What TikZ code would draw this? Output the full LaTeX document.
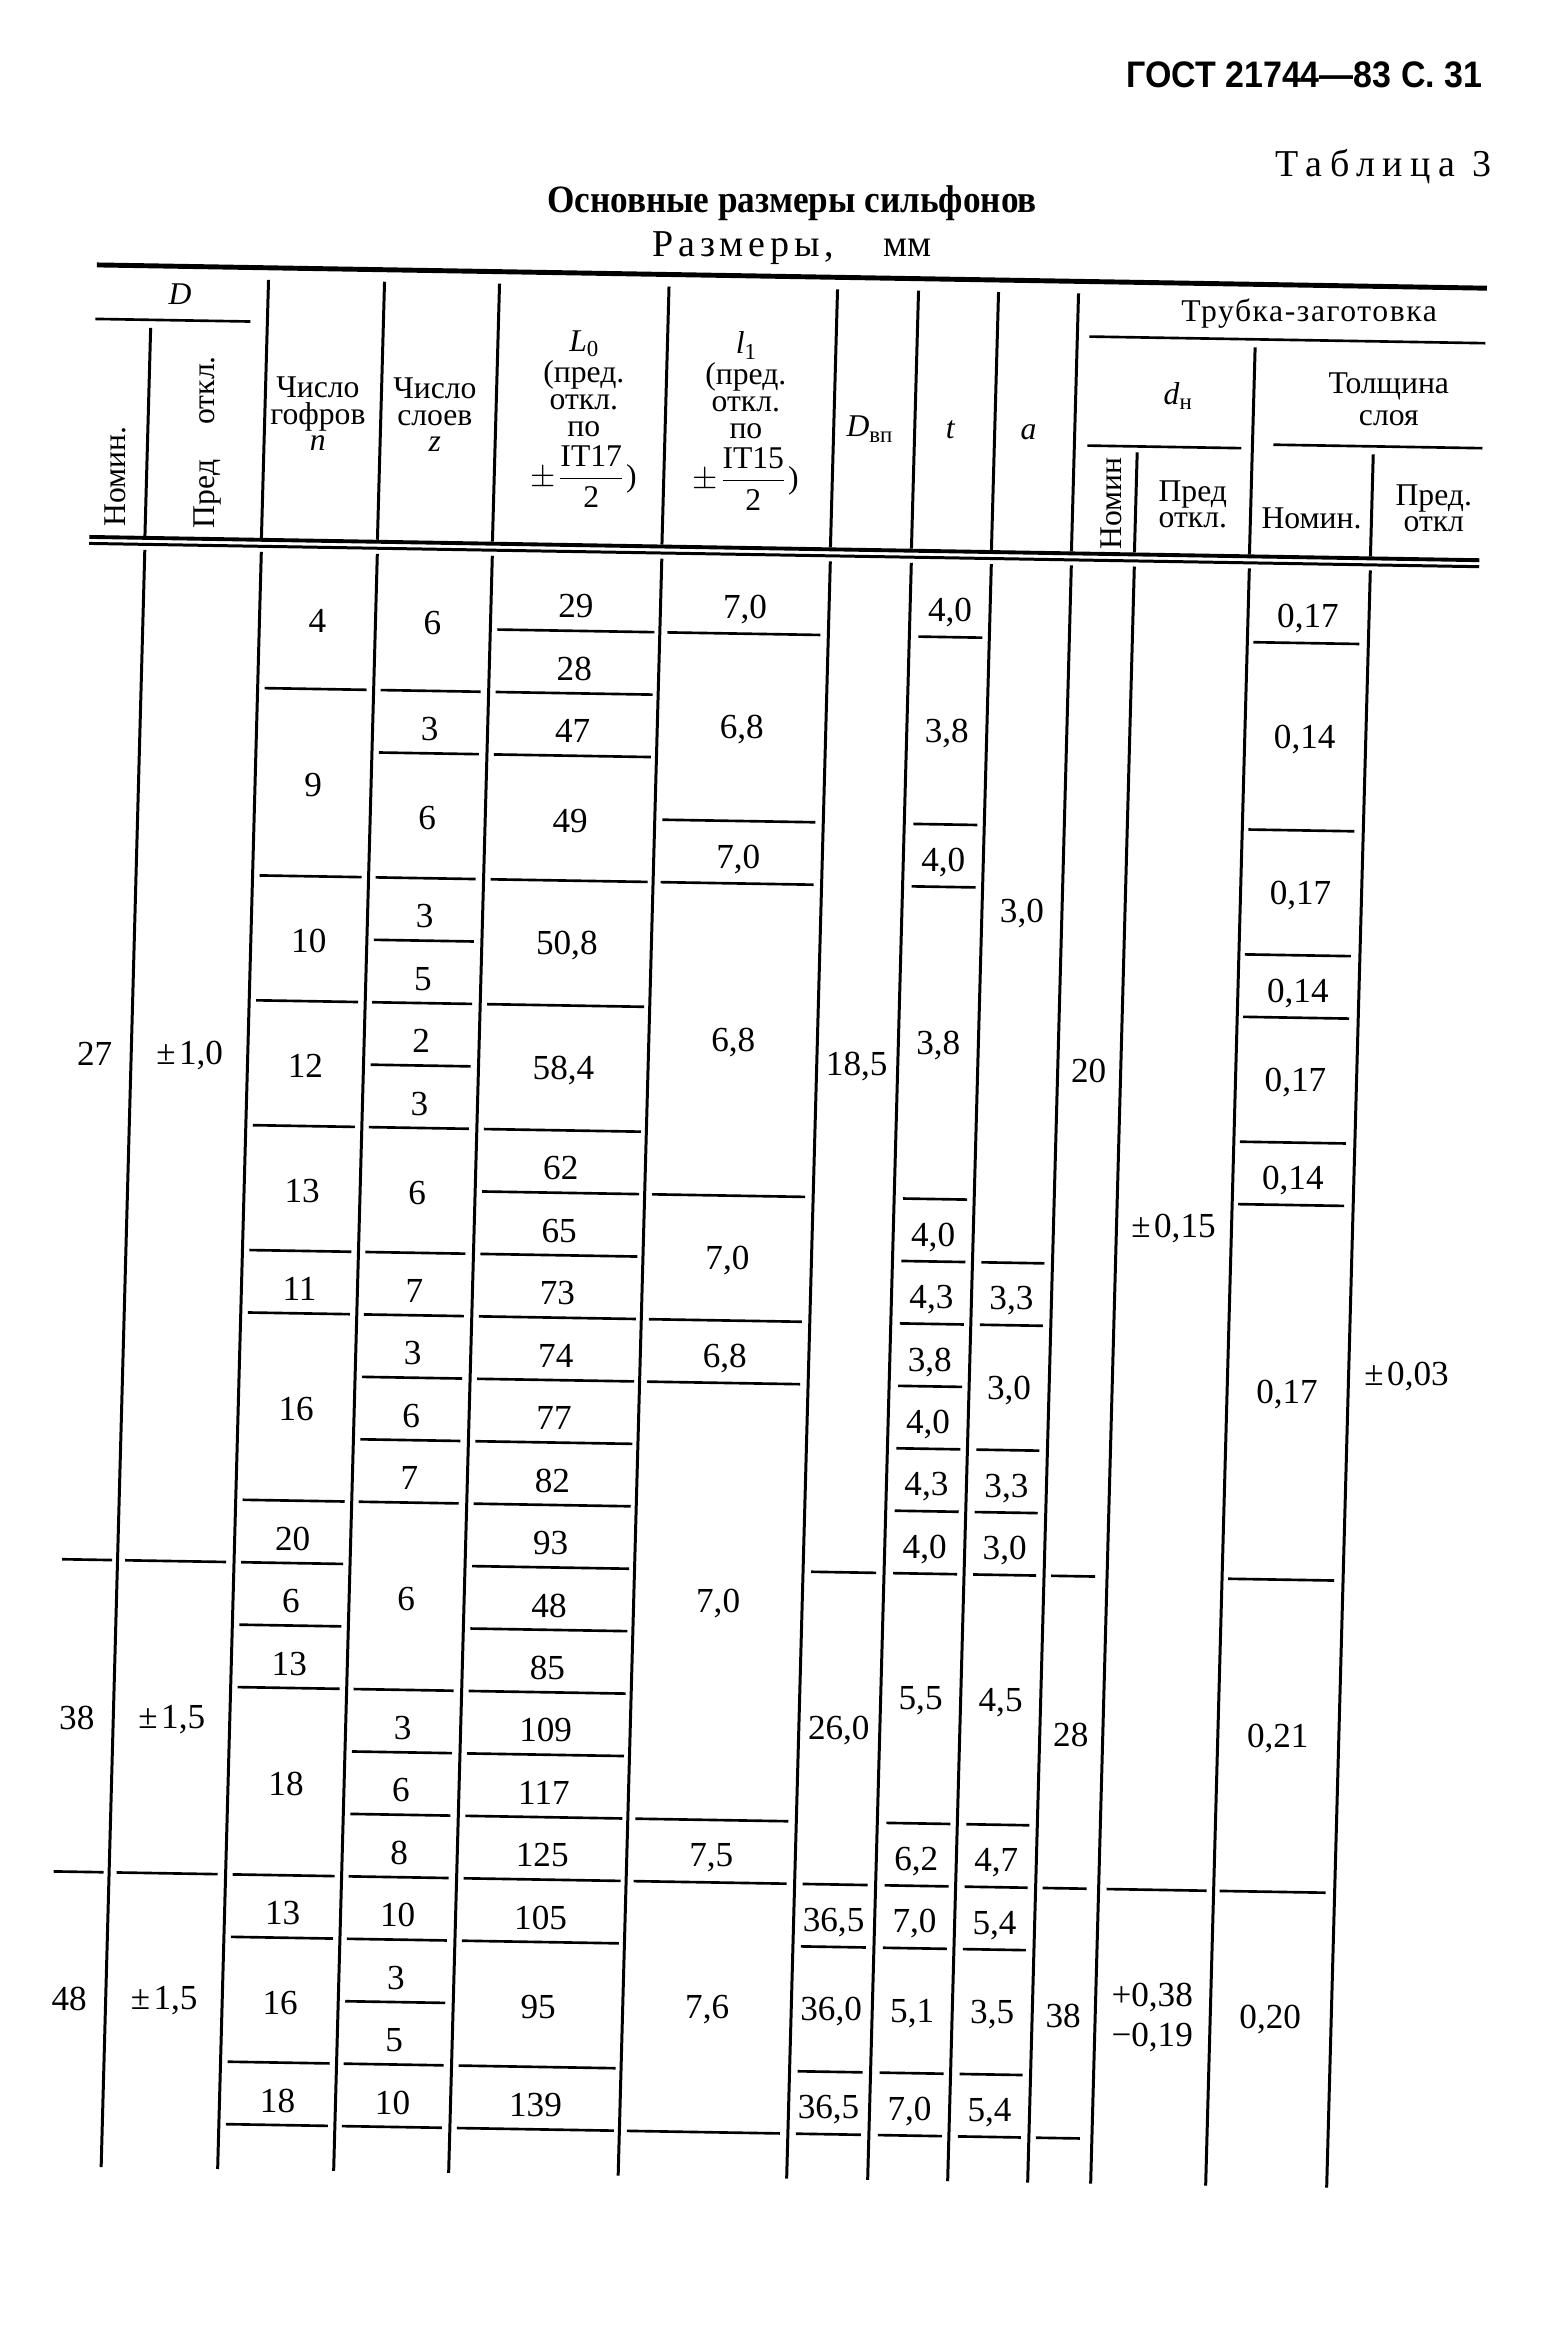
\documentclass[tikz,border=0pt]{standalone}
\usepackage{fontspec}
\usepackage{amsmath}
\usepackage{graphicx}
\usepackage{xcolor}
\usepackage{tikz}
\setmainfont{Liberation Serif}
\newfontfamily\gostsans{Liberation Sans}
\tikzstyle{rule} = [line width=0.75pt]
\tikzstyle{colline} = [line width=0.85pt]
\tikzstyle{num} = [inner sep=0pt, align=center, font=\fontsize{10}{11.4}\selectfont]
\tikzstyle{head} = [inner sep=0pt, align=center, font=\fontsize{9}{7.6}\selectfont]
\tikzstyle{rothead} = [inner sep=0pt, rotate=90, anchor=west, font=\fontsize{9}{9}\selectfont]
\newcommand\lsub[1]{\raisebox{-0.4ex}{\fontsize{6.5}{6.5}\selectfont #1}}
\newcommand\tabcell[5]{%
  \pgfmathsetmacro\celltop{ifthenelse(#3==1,-0.27,#3-1)}%
  \pgfmathsetmacro\celly{ifthenelse(#3==#4,#4-0.39,(\celltop+#4)/2+0.04)}%
  \node[num] (#1) at (#2,\celly) {#5};}

\begin{document}
\begin{tikzpicture}[x=0.01cm, y=-0.01cm]
\useasboundingbox (0,0) rectangle (1559,2337);
\fill[white] (0,0) rectangle (1559,2337);

% page heading
\node[inner sep=0pt, anchor=base east, font=\gostsans\bfseries\fontsize{10.5}{12}\selectfont] (gost) at (1483,88) {\scalebox{0.92}[1]{ГОСТ 21744—83 С. 31}};
\node[inner sep=0pt, anchor=base east, font=\fontsize{10.8}{12}\selectfont\addfontfeature{LetterSpace=20}] (tabno) at (1492,177) {Таблица 3};
\node[inner sep=0pt, anchor=base, font=\bfseries\fontsize{11}{13}\selectfont] (title) at (792,213) {\scalebox{0.91}[1]{Основные размеры сильфонов}};
\node[inner sep=0pt, anchor=base, font=\fontsize{10.8}{12}\selectfont] (units) at (792,257) {{\addfontfeature{LetterSpace=13}Размеры,}\hspace{14pt}мм};

% table head (scan is skewed a little)
\begin{scope}[x={(0.01cm,-0.000172cm)}, y={(-0.00027cm,-0.01cm)}, shift={(0.0713cm,0.0169cm)}]
  \draw[line width=1.4pt] (97,265) -- (1487,265);
  \draw[rule] (97,319) -- (252,319);
  \draw[rule] (1091,320) -- (1487,320);
  \draw[rule] (1092,429) -- (1246,429);
  \draw[rule] (1278,425) -- (1487,425);
  \draw[line width=1.1pt] (97,537) -- (1487,537);
  \draw[line width=0.85pt] (97,543.5) -- (1487,543.5);
  \draw[colline] (152.5,327) -- (152.5,535);
  \foreach \u in {269,385,500,669.5,838,919,999,1079}
    \draw[colline] (\u,277) -- (\u,535);
  \draw[colline] (1142,435) -- (1142,535);
  \draw[colline] (1257,328) -- (1257,535);
  \draw[colline] (1378,433) -- (1378,535);

  \node[head] (hD) at (181,293) {\textit{D}};
  \node[rothead] (hDnom) at (123,527) {Номин.};
  \node[rothead] (hDpred) at (215,527) {Пред\hspace{10pt}откл.};
  \node[head] (hn) at (322,410) {Число\\гофров\\\textit{n}};
  \node[head] (hz) at (439,409) {Число\\слоев\\\textit{z}};
  \node[head] (hL) at (588,411) {\textit{L}\lsub{0}\\(пред.\\откл.\\по\\[1.5pt]$\pm\dfrac{\text{IT17}}{\text{2}}$)};
  \node[head] (hl) at (750,410) {\textit{l}\lsub{1}\\(пред.\\откл.\\по\\[1.5pt]$\pm\dfrac{\text{IT15}}{\text{2}}$)};
  \node[head, anchor=base] (hDv) at (874,424) {\textit{D}\lsub{вп}};
  \node[head, anchor=base] (ht) at (955,424) {\textit{t}};
  \node[head, anchor=base] (ha) at (1033,424) {\textit{a}};
  \node[head, font=\fontsize{9}{9}\selectfont\addfontfeature{LetterSpace=5}] (htube) at (1310,293) {Трубка-заготовка};
  \node[head] (hdn) at (1181,378) {\textit{d}\lsub{н}};
  \node[head] (hthk) at (1392,378) {Толщина\\[1.5pt]слоя};
  \node[rothead] (hdnom) at (1119,533) {Номин};
  \node[head] (hdpred) at (1199,486) {Пред\\откл.};
  \node[head] (htnom) at (1318,498) {Номин.};
  \node[head] (htpred) at (1440,486) {Пред.\\откл};
\end{scope}

% table body, y counted in rows
\begin{scope}[x={(0.01cm,-0.000172cm)}, y={(-0.01685cm,-0.624cm)}, shift={(-0.0799cm,-5.5831cm)}]
  \foreach \u in {152.5,269,385,500,669.5,838,919,999,1079,1142,1257,1378}
    \draw[colline] (\u,-0.18) -- (\u,25.72);
  \foreach \ua/\ub/\ks in {97/147/{16,21}, 160/261/{16,21},
      276/378/{2,5,7,9,11,12,15,16,17,18,21,22,24,25},
      392/492/{2,3,5,6,7,8,9,11,12,13,14,15,18,19,20,21,22,23,24,25},
      507/664/{1,2,3,5,7,9,10,11,12,13,14,15,16,17,18,19,20,21,22,24,25},
      677/830/{1,4,5,10,12,13,20,21,25},
      846/911/{16,21,22,24,25},
      928/992/{1,4,5,10,11,12,13,14,15,16,20,21,22,24,25},
      1008/1071/{11,12,14,15,16,20,21,22,24,25},
      1086/1130/{16,21,25},
      1150/1250/{21},
      1263/1369/{1,4,6,7,9,10,16,21}}
    {\foreach \k in \ks {\draw[rule] (\ua,\k) -- (\ub,\k);}}

  % D
  \foreach \ra/\rb/\txt in {1/16/27, 17/21/38, 22/25/48}
    {\tabcell{c1r\ra}{116}{\ra}{\rb}{\txt}}
  \foreach \ra/\rb/\txt in {1/16/{±\kern1pt1,0}, 17/21/{±\kern1pt1,5}, 22/25/{±\kern1pt1,5}}
    {\tabcell{c2r\ra}{211}{\ra}{\rb}{\txt}}
  % n
  \foreach \ra/\rb/\txt in {1/2/4, 3/5/9, 6/7/10, 8/9/12, 10/11/13, 12/12/11, 13/15/16,
      16/16/20, 17/17/6, 18/18/13, 19/21/18, 22/22/13, 23/24/16, 25/25/18}
    {\tabcell{c3r\ra}{327}{\ra}{\rb}{\txt}}
  % z
  \foreach \ra/\rb/\txt in {1/2/6, 3/3/3, 4/5/6, 6/6/3, 7/7/5, 8/8/2, 9/9/3, 10/11/6,
      12/12/7, 13/13/3, 14/14/6, 15/15/7, 16/18/6, 19/19/3, 20/20/6, 21/21/8,
      22/22/10, 23/23/3, 24/24/5, 25/25/10}
    {\tabcell{c4r\ra}{442}{\ra}{\rb}{\txt}}
  % L0
  \foreach \ra/\rb/\txt in {1/1/29, 2/2/28, 3/3/47, 4/5/49, 6/7/{50,8}, 8/9/{58,4},
      10/10/62, 11/11/65, 12/12/73, 13/13/74, 14/14/77, 15/15/82, 16/16/93,
      17/17/48, 18/18/85, 19/19/109, 20/20/117, 21/21/125, 22/22/105,
      23/24/95, 25/25/139}
    {\tabcell{c5r\ra}{585}{\ra}{\rb}{\txt}}
  % l1
  \foreach \ra/\rb/\txt in {1/1/{7,0}, 2/4/{6,8}, 5/5/{7,0}, 6/10/{6,8}, 11/12/{7,0},
      13/13/{6,8}, 14/20/{7,0}, 21/21/{7,5}, 22/25/{7,6}}
    {\tabcell{c6r\ra}{754}{\ra}{\rb}{\txt}}
  % Dvp
  \foreach \ra/\rb/\txt in {1/16/{18,5}, 17/21/{26,0}, 22/22/{36,5}, 23/24/{36,0}, 25/25/{36,5}}
    {\tabcell{c7r\ra}{878}{\ra}{\rb}{\txt}}
  % t
  \foreach \ra/\rb/\txt in {1/1/{4,0}, 2/4/{3,8}, 5/5/{4,0}, 6/10/{3,8}, 11/11/{4,0},
      12/12/{4,3}, 13/13/{3,8}, 14/14/{4,0}, 15/15/{4,3}, 16/16/{4,0}, 17/20/{5,5},
      21/21/{6,2}, 22/22/{7,0}, 23/24/{5,1}, 25/25/{7,0}}
    {\tabcell{c8r\ra}{959}{\ra}{\rb}{\txt}}
  % a
  \foreach \ra/\rb/\txt in {1/11/{3,0}, 12/12/{3,3}, 13/14/{3,0}, 15/15/{3,3}, 16/16/{3,0},
      17/20/{4,5}, 21/21/{4,7}, 22/22/{5,4}, 23/24/{3,5}, 25/25/{5,4}}
    {\tabcell{c9r\ra}{1039}{\ra}{\rb}{\txt}}
  % dn
  \foreach \ra/\rb/\txt in {1/16/20, 17/21/28, 22/25/38}
    {\tabcell{c10r\ra}{1110}{\ra}{\rb}{\txt}}
  \tabcell{c11r1}{1199}{1}{21}{±\kern1pt0,15}
  \tabcell{c11r22}{1199}{22}{25}{+0,38\\−0,19}
  % layer
  \foreach \ra/\rb/\txt in {1/1/{0,17}, 2/4/{0,14}, 5/6/{0,17}, 7/7/{0,14}, 8/9/{0,17},
      10/10/{0,14}, 11/16/{0,17}, 17/21/{0,21}, 22/25/{0,20}}
    {\tabcell{c12r\ra}{1317}{\ra}{\rb}{\txt}}
  \node[num] (c13r1) at (1436,12.72) {±\kern1pt0,03};
\end{scope}
\end{tikzpicture}
\end{document}
